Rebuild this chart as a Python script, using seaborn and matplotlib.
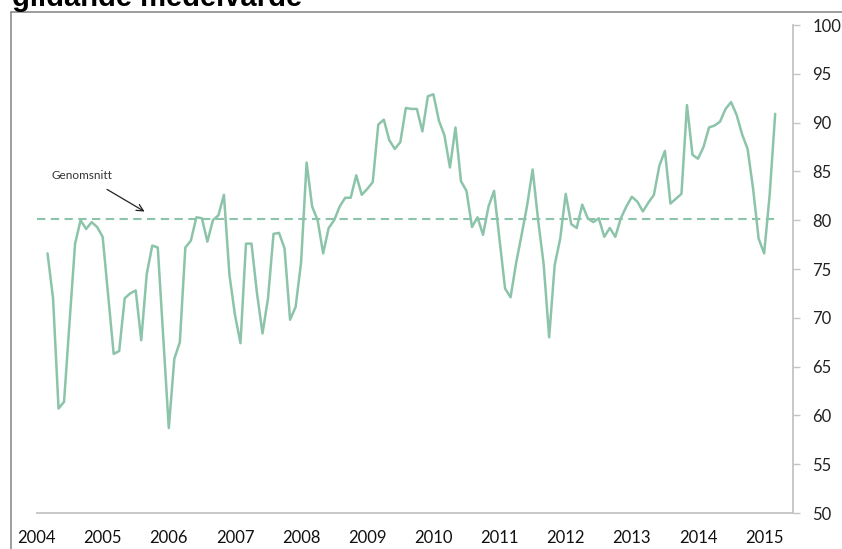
import numpy as np
import pandas as pd
import matplotlib
matplotlib.use('Agg')
import matplotlib.pyplot as plt
import seaborn as sns

# monthly index, March 2004 - March 2015
start_month = '2004-03'
index_values = [
    76.6, 72.0, 60.7, 61.4, 69.6, 77.6, 80.0, 79.1, 79.8, 79.3,
    78.3, 72.3, 66.3, 66.6, 72.0, 72.5, 72.8, 67.7, 74.5, 77.4,
    77.2, 68.0, 58.7, 65.8, 67.5, 77.2, 77.9, 80.3, 80.2, 77.8,
    80.0, 80.5, 82.6, 74.4, 70.3, 67.4, 77.6, 77.6, 72.5, 68.4,
    72.0, 78.6, 78.7, 77.1, 69.8, 71.1, 75.7, 85.9, 81.4, 80.0,
    76.6, 79.2, 80.0, 81.4, 82.3, 82.3, 84.6, 82.6, 83.2, 83.9,
    89.8, 90.3, 88.2, 87.3, 88.0, 91.5, 91.4, 91.4, 89.1, 92.7,
    92.9, 90.2, 88.7, 85.4, 89.5, 84.0, 83.0, 79.3, 80.3, 78.5,
    81.4, 83.0, 78.0, 73.0, 72.1, 75.6, 78.5, 81.5, 85.2, 80.0,
    75.5, 68.0, 75.4, 78.1, 82.7, 79.6, 79.2, 81.6, 80.2, 79.8,
    80.2, 78.3, 79.2, 78.3, 80.2, 81.4, 82.4, 81.9, 80.9, 81.8,
    82.6, 85.6, 87.1, 81.7, 82.2, 82.7, 91.8, 86.7, 86.3, 87.5,
    89.5, 89.7, 90.1, 91.4, 92.1, 90.8, 88.8, 87.3, 83.2, 78.1,
    76.6, 82.6, 90.9,
]
average_value = 80.1
years = list(range(2004, 2016))
year_labels = [str(y) for y in years]
y_ticks = list(range(50, 101, 5))

title = 'glidande medelvärde'
note = 'Genomsnitt'

dates = pd.date_range(start_month, periods=len(index_values), freq='MS')
df = pd.DataFrame({'x': dates.year + (dates.month - 1) / 12, 'value': index_values})

sns.set_theme(style='white')
plt.rcParams['font.family'] = ['Lato', 'DejaVu Sans']

line_col = '#8cc4aa'
axis_col = '#c4c4c4'

fig = plt.figure(figsize=(8.42, 5.49), dpi=100)
ax = fig.add_axes([36.5 / 842, 1 - 513 / 549, (793 - 36.5) / 842, (513 - 25) / 549])

sns.lineplot(data=df, x='x', y='value', color=line_col, linewidth=1.8, ax=ax)
ax.plot([2004.0, df['x'].iloc[-1]], [average_value, average_value], color=line_col,
        linewidth=1.5, dashes=(4, 2.6))

ax.annotate('', xy=(2005.67, 80.74), xytext=(2005.03, 83.3),
            arrowprops=dict(arrowstyle='->', color='#222222', lw=0.9))
ax.text(2004.22, 84.6, note, fontsize=8.5, color='#333333', va='center', ha='left')

ax.set_xlim(2004.0, 2004 + (793 - 36.5) / 66.15)
ax.set_ylim(50, 100)
ax.set_xticks(years)
ax.set_xticklabels(year_labels)
ax.set_yticks(y_ticks)
ax.yaxis.tick_right()
ax.set_xlabel('')
ax.set_ylabel('')

for side in ['top', 'left']:
    ax.spines[side].set_visible(False)
for side in ['bottom', 'right']:
    ax.spines[side].set_color(axis_col)
    ax.spines[side].set_linewidth(1.3)
ax.tick_params(axis='x', direction='out', length=5, width=1, color=axis_col,
               labelsize=12, labelcolor='#111111', pad=7)
ax.tick_params(axis='y', direction='out', length=5, width=1, color=axis_col,
               labelsize=12, labelcolor='#222222', pad=9, right=True, left=False)

# outer frame + title that runs off the top, as in the source image
fig.add_artist(plt.Line2D([11 / 842, 1], [1 - 12 / 549] * 2, color='#8c8c8c', lw=1.2))
fig.add_artist(plt.Line2D([11 / 842] * 2, [0, 1 - 12 / 549], color='#8c8c8c', lw=1.2))
fig.text(12 / 842, 1 - 6 / 549, title, fontsize=21, fontweight='bold',
         family='Liberation Sans', va='baseline', ha='left', color='black')

plt.savefig('out.png', dpi=100)
